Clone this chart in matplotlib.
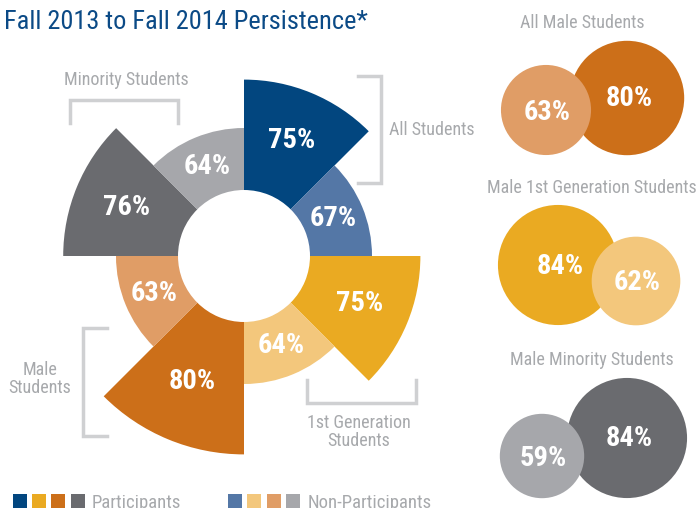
import matplotlib
matplotlib.use("Agg")
import matplotlib.pyplot as plt
from matplotlib.patches import Wedge, Circle, Rectangle
import numpy as np

plt.rcParams['font.family'] = ['Roboto Condensed', 'DejaVu Sans']

# rose chart data, clockwise from 12 o'clock
groups = ["All Students", "1st Generation Students", "Male Students", "Minority Students"]
participants = [75, 75, 80, 76]
non_participants = [67, 64, 63, 64]

dark_cols = ["#02467f", "#eaaa22", "#cc6f19", "#6a6b6f"]
light_cols = ["#5477a6", "#f3c77c", "#e09d66", "#a6a7ab"]

# male comparison bubbles
bubble_titles = ["All Male Students", "Male 1st Generation Students", "Male Minority Students"]
bubble_part = [80, 84, 84]
bubble_nonpart = [63, 62, 59]
bubble_group = [2, 1, 3]   # which colour pair

W, H = 696, 508
fig = plt.figure(figsize=(W / 100, H / 100), dpi=100)
ax = fig.add_axes([0, 0, 1, 1])
ax.set_xlim(0, W)
ax.set_ylim(H, 0)
ax.set_aspect("equal")
ax.axis("off")

cx, cy = 244, 256
r_in = 66
GRAY = "#a7a9ac"
BR = "#cfd0d2"
NUM = 20.5
LAB = 13


def outer_r(v, part):
    if part:
        return 128 + (v - 64) * 4.4
    return 128


# y axis is flipped, so angles go clockwise on screen
vals, cols, parts = [], [], []
for p, n, dc, lc in zip(participants, non_participants, dark_cols, light_cols):
    vals += [p, n]
    cols += [dc, lc]
    parts += [True, False]

for i, (v, c, pt) in enumerate(zip(vals, cols, parts)):
    t1 = -90 + i * 45
    t2 = t1 + 45
    ro = outer_r(v, pt)
    ax.add_patch(Wedge((cx, cy), ro, t1, t2, width=ro - r_in, facecolor=c, edgecolor="none"))
    mid = np.radians(t1 + 22.5)
    rl = (ro + r_in) / 2 + (4 if pt else 0)
    ax.text(cx + rl * np.cos(mid), cy + rl * np.sin(mid), "%d%%" % v, color="white",
            fontsize=NUM, fontweight="bold", ha="center", va="center")

# brackets
lw = 2.5
ax.plot([358, 381, 381, 358], [76, 76, 183, 183], color=BR, lw=lw, solid_joinstyle="miter")
ax.plot([70, 70, 178, 178], [123, 100, 100, 123], color=BR, lw=lw, solid_joinstyle="miter")
ax.plot([307, 307, 416, 416], [380, 403, 403, 380], color=BR, lw=lw, solid_joinstyle="miter")
ax.plot([107, 83, 83, 107], [328, 328, 436, 436], color=BR, lw=lw, solid_joinstyle="miter")

ax.text(389, 130, "All Students", color=GRAY, fontsize=LAB, ha="left", va="center")
ax.text(126, 80, "Minority Students", color=GRAY, fontsize=LAB, ha="center", va="center")
ax.text(359, 432, "1st Generation\nStudents", color=GRAY, fontsize=LAB, ha="center", va="center",
        linespacing=1.05)
ax.text(40, 379, "Male\nStudents", color=GRAY, fontsize=LAB, ha="center", va="center",
        linespacing=1.05)

# title
ax.text(4, 22, "Fall 2013 to Fall 2014 Persistence*", color="#0b4a86", fontsize=19,
        ha="left", va="center")

# bubbles on the right
k = 0.715
title_pos = [(582, 23), (592, 188), (592, 360)]
part_pos = [(627, 98), (558, 265), (627, 438)]
non_pos = [(546, 110), (636, 281), (542, 456)]
for j in range(3):
    g = bubble_group[j]
    ax.text(*title_pos[j], bubble_titles[j], color=GRAY, fontsize=LAB, ha="center", va="center")
    pv, nv = bubble_part[j], bubble_nonpart[j]
    ax.add_patch(Circle(part_pos[j], pv * k, facecolor=dark_cols[g], edgecolor="none"))
    ax.add_patch(Circle(non_pos[j], nv * k, facecolor=light_cols[g], edgecolor="none"))
    ax.text(part_pos[j][0] + 2, part_pos[j][1] + 1, "%d%%" % pv, color="white", fontsize=NUM,
            fontweight="bold", ha="center", va="center")
    ax.text(non_pos[j][0] + 1, non_pos[j][1] + 2, "%d%%" % nv, color="white", fontsize=NUM,
            fontweight="bold", ha="center", va="center")

# legend
sq = 14
for i, c in enumerate(dark_cols):
    ax.add_patch(Rectangle((13 + i * 19.2, 494), sq, sq + 2, facecolor=c, edgecolor="none"))
for i, c in enumerate(light_cols):
    ax.add_patch(Rectangle((228 + i * 19.3, 494), sq, sq + 2, facecolor=c, edgecolor="none"))
ax.text(92, 503, "Participants", color=GRAY, fontsize=13.5, ha="left", va="center")
ax.text(308, 503, "Non-Participants", color=GRAY, fontsize=13.5, ha="left", va="center")

fig.savefig("out.png", dpi=100)
